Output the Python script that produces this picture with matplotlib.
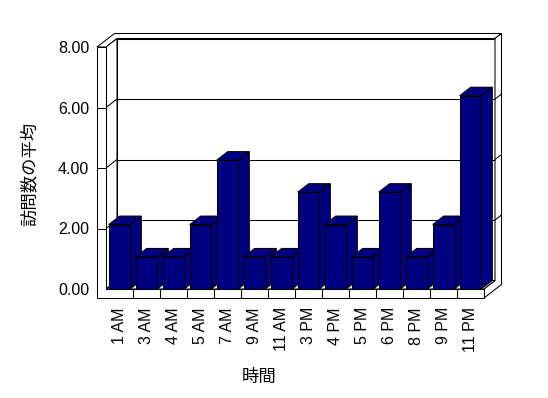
import matplotlib
matplotlib.use("Agg")
import matplotlib.pyplot as plt
from matplotlib.patches import Polygon

# data
hours = ["1 AM", "3 AM", "4 AM", "5 AM", "7 AM", "9 AM", "11 AM",
         "3 PM", "4 PM", "5 PM", "6 PM", "8 PM", "9 PM", "11 PM"]
visits = [2.13, 1.06, 1.06, 2.13, 4.26, 1.06, 1.06,
          3.2, 2.13, 1.06, 3.2, 1.06, 2.13, 6.39]
yticks = [0, 2, 4, 6, 8]
ytick_labels = ["0.00", "2.00", "4.00", "6.00", "8.00"]

navy = "#000080"
lw = 0.75

fig = plt.figure(figsize=(5.48, 3.98), dpi=100)
# front plane of the 3d box
ax = fig.add_axes([106 / 548, 109 / 398, 378 / 548, 242 / 398])
n = len(hours)
x0, x1 = -0.5, n - 0.5
y0, y1 = 0, 8
ax.set_xlim(x0, x1)
ax.set_ylim(y0, y1)

pxx = 378 / n          # pixels per category
pxy = 242 / 8          # pixels per value unit
dx, dy = 11 / pxx, 8.5 / pxy      # depth of the box
tx, ty = 6.5 / pxx, 5 / pxy       # thickness of the back wall
wall_t = 9 / pxx
floor_t = 9 / pxy


def poly(pts, z, fc="white"):
    p = Polygon(pts, closed=True, facecolor=fc, edgecolor="black",
                linewidth=lw, clip_on=False, zorder=z)
    ax.add_patch(p)


def line(xs, ys, z):
    ax.plot(xs, ys, color="black", linewidth=lw, clip_on=False, zorder=z,
            solid_capstyle="butt")


# back wall
poly([(x0 + dx, y0 + dy), (x1 + dx, y0 + dy), (x1 + dx, y1 + dy), (x0 + dx, y1 + dy)], 1)
# back wall top thickness + left wall top
poly([(x0 - wall_t, y1), (x0, y1), (x0 + dx, y1 + dy), (x1 + dx, y1 + dy),
      (x1 + dx + tx, y1 + dy + ty), (x0 - wall_t + dx + tx, y1 + dy + ty)], 1)
# right thickness and floor side
poly([(x1 + dx, y1 + dy), (x1 + dx + tx, y1 + dy + ty),
      (x1 + dx + tx, y0 - floor_t + dy + ty), (x1, y0 - floor_t),
      (x1, y0), (x1 + dx, y0 + dy)], 1)
# left wall inner face
poly([(x0, y0), (x0, y1), (x0 + dx, y1 + dy), (x0 + dx, y0 + dy)], 1)
# floor top
poly([(x0, y0), (x1, y0), (x1 + dx, y0 + dy), (x0 + dx, y0 + dy)], 1)

# gridlines
for v in yticks[1:-1]:
    line([x0 + dx, x1 + dx], [v + dy, v + dy], 2)
    line([x0, x0 + dx], [v, v + dy], 2)
    line([x1 + dx, x1 + dx + tx], [v + dy, v + dy + ty], 2)

# left wall front + floor front
poly([(x0 - wall_t, y0 - floor_t), (x1, y0 - floor_t), (x1, y0), (x0, y0),
      (x0, y1), (x0 - wall_t, y1)], 3)
for v in yticks[1:-1]:
    line([x0 - wall_t, x0], [v, v], 4)
for i in range(n - 1):
    line([i + 0.5, i + 0.5], [y0 - floor_t, y0], 4)

# bars, left to right
w = 0.8
for i, v in enumerate(visits):
    z = 10 + i
    l, r = i - w / 2, i + w / 2
    poly([(r, 0), (r, v), (r + dx, v + dy), (r + dx, dy)], z, navy)
    poly([(l, v), (r, v), (r + dx, v + dy), (l + dx, v + dy)], z, navy)
    ax.bar(i, v, width=w, color=navy, edgecolor="black", linewidth=lw,
           zorder=z + 0.5, clip_on=False)

for s in ax.spines.values():
    s.set_visible(False)

tick_font = dict(family="Liberation Sans", size=11.5)
ax.set_xticks(range(n))
ax.set_xticklabels(hours, rotation=90, **tick_font)
ax.set_yticks(yticks)
ax.set_yticklabels(ytick_labels, **tick_font)
ax.tick_params(axis="x", length=0, pad=13)
ax.tick_params(axis="y", length=0, pad=12)

jp = ["Noto Sans CJK JP", "DejaVu Sans"]
ax.text((30 - 106) / 378, (289 - 174) / 242, "訪問数の平均", rotation=90,
        ha="center", va="center", transform=ax.transAxes, family=jp, size=12.5)
ax.text((259 - 106) / 378, (289 - 377) / 242, "時間",
        ha="center", va="center", transform=ax.transAxes, family=jp, size=12.5)

fig.savefig("out.png", dpi=100)
